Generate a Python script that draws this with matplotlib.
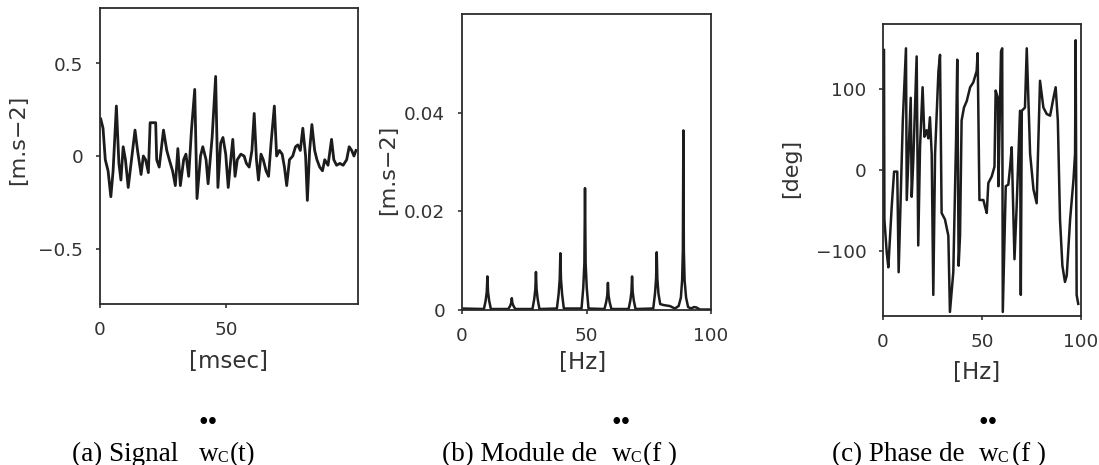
import matplotlib
matplotlib.use("Agg")
import matplotlib.pyplot as plt

W, H = 1099, 465

# (a) time signal [msec] -> [m.s-2]
t_ms = [0.3, 1.2, 2.1, 3.2, 4.3, 5.2, 6.5, 7.5, 8.3, 9.2, 10.1, 11.2, 12.5, 13.9,
        14.9, 16.3, 17.2, 18.1, 19.2, 19.9, 22.1, 22.5, 23.5, 25.2, 26.5, 27.5,
        28.8, 29.9, 30.9, 31.9, 33.2, 34.1, 35.2, 36.3, 37.6, 38.5, 39.9, 40.8,
        42.1, 42.9, 44.5, 45.9, 46.8, 47.9, 48.8, 49.9, 50.9, 51.9, 52.7, 53.6,
        54.5, 55.9, 57.2, 58.1, 59.2, 60.3, 61.2, 62.1, 62.9, 63.9, 64.8, 65.9,
        66.9, 67.9, 69.2, 70.1, 71.2, 72.3, 73.2, 74.1, 75.2, 76.5, 77.6, 78.5,
        79.5, 80.5, 81.6, 82.3, 83.2, 84.1, 85.2, 86.1, 87.2, 88.3, 89.2, 90.5,
        91.9, 92.8, 93.9, 95.2, 96.5, 97.9, 98.9, 99.9, 100.8, 101.6]
acc = [0.20, 0.15, -0.02, -0.08, -0.22, -0.08, 0.27, -0.04, -0.13, 0.05, -0.02,
       -0.17, -0.02, 0.14, 0.03, -0.10, 0.00, -0.02, -0.09, 0.18, 0.18, -0.02,
       -0.06, 0.14, 0.03, -0.02, -0.08, -0.16, 0.04, -0.16, -0.02, 0.01, -0.11,
       0.14, 0.36, -0.23, 0.00, 0.05, -0.02, -0.15, 0.10, 0.43, -0.17, 0.07,
       0.10, 0.01, -0.17, -0.02, 0.09, -0.11, -0.02, 0.01, 0.00, -0.04, -0.06,
       0.03, 0.23, -0.02, -0.13, 0.01, -0.02, -0.08, -0.11, 0.07, 0.27, 0.00,
       0.03, 0.01, -0.06, -0.16, -0.02, 0.00, 0.05, 0.06, 0.03, 0.15, 0.00,
       -0.24, 0.03, 0.17, 0.03, -0.02, -0.06, -0.08, -0.02, -0.05, 0.09, -0.02,
       -0.05, -0.04, -0.05, -0.02, 0.05, 0.03, 0.00, 0.03]

# (b) spectrum modulus [Hz] -> [m.s-2]
f_mod = [0.0, 8.8, 9.5, 9.95, 10.2, 10.45, 10.9, 11.6,
         18.6, 19.3, 19.75, 20.0, 20.25, 20.7, 21.4,
         28.3, 29.0, 29.45, 29.7, 29.95, 30.4, 31.1,
         38.1, 38.8, 39.25, 39.5, 39.75, 40.2, 40.9,
         48.0, 48.7, 49.15, 49.4, 49.65, 50.1, 50.8,
         57.2, 57.9, 58.35, 58.6, 58.85, 59.3, 60.0,
         66.9, 67.6, 68.05, 68.3, 68.55, 69.0, 69.7,
         76.8, 77.5, 77.95, 78.2, 78.45, 78.9, 79.6,
         81.0, 83.5, 85.5, 87.0,
         87.9, 88.4, 88.7, 88.9, 89.1, 89.4, 90.0, 90.8,
         92.0, 93.2, 94.2, 95.5, 100.0]
mod = [0.0003, 0.0002, 0.0019, 0.0037, 0.0068, 0.0037, 0.0019, 0.0002,
       0.0002, 0.0008, 0.0014, 0.0024, 0.0014, 0.0008, 0.0002,
       0.0002, 0.0022, 0.0042, 0.0077, 0.0042, 0.0022, 0.0002,
       0.0003, 0.0032, 0.0063, 0.0115, 0.0063, 0.0032, 0.0003,
       0.0003, 0.0045, 0.0095, 0.0247, 0.0095, 0.0045, 0.0003,
       0.0002, 0.0016, 0.0030, 0.0055, 0.0030, 0.0016, 0.0002,
       0.0002, 0.0019, 0.0037, 0.0068, 0.0037, 0.0019, 0.0002,
       0.0003, 0.0033, 0.0064, 0.0117, 0.0064, 0.0033, 0.0012,
       0.0010, 0.0008, 0.0003, 0.0008,
       0.0025, 0.0060, 0.0120, 0.0364, 0.0120, 0.0060, 0.0025, 0.0006,
       0.0003, 0.0006, 0.0005, 0.0001, 0.0001]

# (c) spectrum phase [Hz] -> [deg]
f_ph = [0.5, 0.7, 1.9, 2.7, 4.4, 5.6, 7.2, 7.9, 10.0, 11.6, 12.0, 14.0, 14.5,
        15.3, 17.0, 17.8, 18.7, 20.0, 20.9, 22.0, 22.9, 23.7, 24.6, 25.4, 26.3,
        28.0, 28.8, 29.6, 31.3, 33.0, 33.8, 35.5, 36.9, 37.5, 38.2, 38.9, 39.7,
        40.9, 42.3, 44.0, 45.6, 47.3, 47.8, 48.7, 50.7, 51.5, 52.4, 53.2, 54.9,
        56.3, 56.9, 58.0, 58.3, 59.6, 60.2, 60.5, 62.0, 63.3, 64.2, 65.0, 66.4,
        67.5, 69.2, 69.6, 70.1, 71.7, 72.6, 74.3, 76.0, 77.6, 79.3, 81.0, 82.7,
        84.4, 86.1, 87.2, 88.3, 89.4, 90.6, 91.9, 92.8, 94.5, 96.2, 97.0, 97.3,
        97.8, 98.6]
phase = [148, -61, -102, -120, -45, -2, -2, -126, 61, 150, -37, 89, -33,
         12, 140, -93, 28, 102, 41, 49, 39, 65, 20, -154, 20,
         122, 142, -53, -61, -81, -175, -126, 37, 136, -118, -81, 61,
         77, 85, 102, 108, 122, 144, -37, -37, -45, -53, -16, -8,
         4, 98, 89, -20, 146, 150, -175, -20, -18, 4, 28, -110,
         -45, 73, -154, 73, 77, 150, 20, -24, -41, 110, 77, 69,
         67, 89, 102, 61, -61, -118, -138, -130, -61, -12, 20, 160,
         -154, -165]

line_col = '#1c1c1c'
text_col = '#333333'


def box(x0, y0, x1, y1):
    # axes rectangle given in pixel corners (top-left origin)
    return [x0 / W, 1 - y1 / H, (x1 - x0) / W, (y1 - y0) / H]


def style(ax):
    for s in ax.spines.values():
        s.set_linewidth(1.3)
        s.set_color('#2b2b2b')
    ax.tick_params(direction='out', length=3, width=1.2, pad=9,
                   colors=text_col, top=False, right=False)
    for lab in ax.get_xticklabels() + ax.get_yticklabels():
        lab.set_fontfamily('DejaVu Sans')
        lab.set_fontsize(13.3)
        lab.set_color(text_col)


def ftext(x, y, s, **kw):
    fig.text(x / W, 1 - y / H, s, **kw)


fig = plt.figure(figsize=(W / 100, H / 100), dpi=100)

# (a) signal
ax_a = fig.add_axes(box(100, 8, 358, 304))
ax_a.plot(t_ms, acc, color=line_col, lw=2.0)
ax_a.set_xlim(0, 102.4)
ax_a.set_ylim(-0.8, 0.8)
ax_a.set_xticks([0, 50])
ax_a.set_xticklabels(['0', '50'])
ax_a.set_yticks([-0.5, 0, 0.5])
ax_a.set_yticklabels(['\u22120.5', '0', '0.5'])
style(ax_a)

# (b) modulus
ax_b = fig.add_axes(box(462, 14, 711, 310))
ax_b.plot(f_mod, mod, color=line_col, lw=1.8)
ax_b.set_xlim(0, 100)
ax_b.set_ylim(0, 0.06)
ax_b.set_xticks([0, 50, 100])
ax_b.set_xticklabels(['0', '50', '100'])
ax_b.set_yticks([0, 0.02, 0.04])
ax_b.set_yticklabels(['0', '0.02', '0.04'])
style(ax_b)

# (c) phase
ax_c = fig.add_axes(box(883, 24, 1081, 316))
ax_c.plot(f_ph, phase, color=line_col, lw=1.8)
ax_c.set_xlim(0, 100)
ax_c.set_ylim(-180, 180)
ax_c.set_xticks([0, 50, 100])
ax_c.set_xticklabels(['0', '50', '100'])
ax_c.set_yticks([-100, 0, 100])
ax_c.set_yticklabels(['\u2212100', '0', '100'])
style(ax_c)

# axis labels
lab_kw = dict(family='DejaVu Sans', color=text_col, ha='center', va='center')
ftext(18, 140, '[m.s\u22122]', rotation=90, fontsize=16, **lab_kw)
ftext(388, 170, '[m.s\u22122]', rotation=90, fontsize=16, **lab_kw)
ftext(791, 168, '[deg]', rotation=90, fontsize=16, **lab_kw)
ftext(228, 361, '[msec]', fontsize=16.5, **lab_kw)
ftext(583, 362, '[Hz]', fontsize=16.5, **lab_kw)
ftext(977, 373, '[Hz]', fontsize=16.5, **lab_kw)

# captions: body text, w with double dot, small C subscript, argument
cap = dict(family='Liberation Serif', color='black', va='baseline', ha='left')
base = 461
for x_txt, txt, x_w, x_arg, arg in [(72, '(a) Signal', 199, 230, '(t)'),
                                    (442, '(b) Module de', 612, 643, '(f )'),
                                    (832, '(c) Phase de', 979, 1012, '(f )')]:
    ftext(x_txt, base, txt, fontsize=19.5, **cap)
    ftext(x_w, base, 'w', fontsize=19.5, **cap)
    ftext(x_w + 18, base + 1, 'C', fontsize=11.5, **cap)
    ftext(x_arg, base, arg, fontsize=19.5, **cap)
    ftext(x_w + 9, 430, '\u2022\u2022', fontsize=20, family='Liberation Serif',
          color='black', va='baseline', ha='center')

fig.savefig('out.png', dpi=100)
